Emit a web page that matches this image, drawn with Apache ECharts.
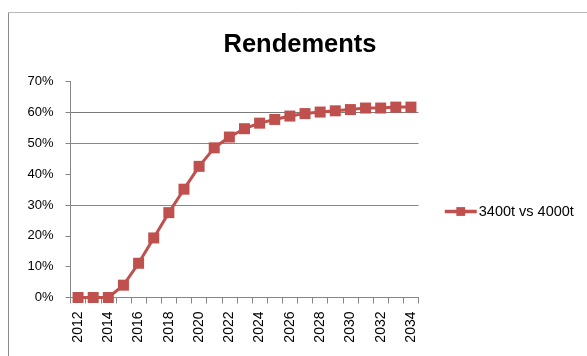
<!DOCTYPE html>
<html>
<head>
<meta charset="utf-8">
<title>Rendements</title>
<script src="https://cdn.jsdelivr.net/npm/echarts@6/dist/echarts.min.js"></script>
<style>
  html, body { margin: 0; padding: 0; background: #ffffff; }
  #chart { width: 587px; height: 356px; }
</style>
</head>
<body>
<div id="chart"></div>
<script>
// Years on the category axis
const years = ['2012','2013','2014','2015','2016','2017','2018','2019','2020','2021','2022','2023',
               '2024','2025','2026','2027','2028','2029','2030','2031','2032','2033','2034'];

// Yield of 3400t versus 4000t, in percent
const rendement = [0, 0, 0, 4.0, 11.1, 19.3, 27.5, 35.1, 42.5, 48.5, 52.0, 54.7,
                   56.5, 57.7, 58.8, 59.6, 60.1, 60.5, 60.9, 61.4, 61.4, 61.7, 61.7];

const seriesName = '3400t vs 4000t';
const titleText = 'Rendements';

// Percent ticks on the value axis
const yMin = 0;
const yMax = 70;
const yStep = 10;

const font = 'Liberation Sans, Arial, sans-serif';
const red = '#C0504D';

const chart = echarts.init(document.getElementById('chart'), null, { renderer: 'canvas' });

chart.setOption({
  backgroundColor: '#ffffff',
  animation: false,
  title: {
    text: titleText,
    left: 295,
    textAlign: 'center',
    top: 27,
    textStyle: { fontFamily: font, fontSize: 25.5, fontWeight: 'bold', color: '#000000' }
  },
  graphic: [
    { type: 'line', shape: { x1: 8.5, y1: 12, x2: 8.5, y2: 356 }, style: { stroke: '#8a8a8a', lineWidth: 1 } },
    { type: 'line', shape: { x1: 8, y1: 12.5, x2: 587, y2: 12.5 }, style: { stroke: '#b8b8b8', lineWidth: 1 } }
  ],
  legend: {
    left: 443,
    top: 204,
    padding: 0,
    itemWidth: 32,
    itemHeight: 11,
    itemGap: 10,
    lineStyle: { width: 3.5 },
    textStyle: { fontFamily: font, fontSize: 14.5, color: '#000000', padding: [0, 0, 0, -3] },
    data: [seriesName]
  },
  grid: { left: 70.5, right: 168.5, top: 81.5, bottom: 58.5, containLabel: false },
  xAxis: {
    type: 'category',
    data: years,
    boundaryGap: true,
    axisLine: { show: true, lineStyle: { color: '#868686', width: 1 } },
    axisTick: { show: true, interval: 0, length: 6, lineStyle: { color: '#868686' } },
    axisLabel: {
      interval: 1,
      rotate: 90,
      margin: 14,
      fontFamily: font,
      fontSize: 14,
      color: '#000000'
    },
    splitLine: { show: false }
  },
  yAxis: {
    type: 'value',
    min: yMin,
    max: yMax,
    interval: yStep,
    axisLine: { show: true, lineStyle: { color: '#868686', width: 1 } },
    axisTick: { show: true, length: 5, lineStyle: { color: '#868686' } },
    axisLabel: {
      formatter: '{value}%',
      margin: 17,
      fontFamily: font,
      fontSize: 13,
      color: '#000000'
    },
    splitLine: {
      show: true,
      lineStyle: {
        color: ['#868686', 'rgba(0,0,0,0)', 'rgba(0,0,0,0)', '#868686', 'rgba(0,0,0,0)', '#868686', '#7a7a7a', 'rgba(0,0,0,0)'],
        width: 1
      }
    }
  },
  series: [{
    name: seriesName,
    type: 'line',
    data: rendement,
    symbol: 'rect',
    symbolSize: 11,
    showAllSymbol: true,
    lineStyle: { color: red, width: 3 },
    itemStyle: { color: red, borderWidth: 0 },
    z: 3
  }]
});
</script>
</body>
</html>
